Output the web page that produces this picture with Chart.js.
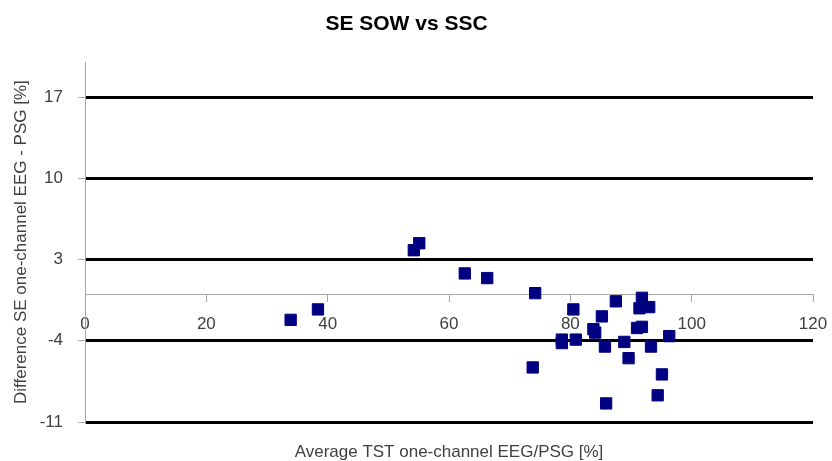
<!DOCTYPE html>
<html>
<head>
<meta charset="utf-8">
<script src="https://cdn.jsdelivr.net/npm/chart.js@4"></script>
<style>
  html, body { margin: 0; padding: 0; background: #fff; }
</style>
</head>
<body>
<canvas id="canvas" width="832" height="461"></canvas>
<script>
// values
const avgTst = [33.9, 38.4, 54.2, 55.1, 62.6, 66.3, 74.2, 73.8, 80.5, 87.5,
  91.8, 91.4, 93.0, 85.2, 83.8, 84.1, 91.0, 91.8, 78.6, 78.6,
  80.9, 85.7, 88.9, 93.3, 96.3, 89.6, 95.1, 94.4, 85.9];
const diffSe = [-2.2, -1.3, 3.8, 4.4, 1.8, 1.4, 0.1, -6.3, -1.3, -0.6,
  -0.3, -1.2, -1.1, -1.9, -3.0, -3.3, -2.9, -2.8, -3.9, -4.2,
  -3.9, -4.5, -4.1, -4.5, -3.6, -5.5, -6.9, -8.7, -9.4];
const xTicks = [0, 20, 40, 60, 80, 100, 120];
const yTicks = [-11, -4, 3, 10, 17];

const titleText = "SE SOW vs SSC";
const xTitle = "Average TST one-channel EEG/PSG [%]";
const yTitle = "Difference SE one-channel EEG - PSG [%]";

Chart.defaults.font.family = "'Liberation Sans', Arial, sans-serif";

const points = avgTst.map((x, i) => ({ x: x, y: diffSe[i] }));
const grey = "#a6a6a6";
const labelColor = "#404040";

const ctx = document.getElementById("canvas");
const myChart = new Chart(ctx, {
  type: "scatter",
  data: {
    datasets: [
      {
        data: points,
        backgroundColor: "#000080",
        borderColor: "#000080",
        borderWidth: 1,
        pointStyle: "rect",
        pointRadius: 8,
        pointHoverRadius: 8,
      },
    ],
  },
  options: {
    responsive: false,
    animation: false,
    devicePixelRatio: 1,
    layout: { padding: { left: 0, right: 19, top: 0, bottom: 0 } },
    plugins: {
      legend: { display: false },
      tooltip: { enabled: false },
      title: {
        display: true,
        text: titleText,
        color: "#000",
        font: { size: 21, weight: "bold" },
        padding: { top: 12, bottom: 25 },
      },
    },
    scales: {
      x: {
        type: "linear",
        min: 0,
        max: 120,
        position: { y: 0 },
        afterBuildTicks: (s) => {
          s.ticks = xTicks.map((v) => ({ value: v }));
        },
        afterFit: (s) => {
          // keep the plot right edge where the reference has it
          s.paddingLeft = 0;
          s.paddingRight = 19;
        },
        ticks: { color: labelColor, font: { size: 17 }, padding: 13 },
        grid: { drawOnChartArea: false, tickColor: grey, tickLength: 7 },
        border: { color: grey, width: 1 },
      },
      x2: {
        type: "linear",
        min: 0,
        max: 120,
        position: "bottom",
        ticks: { display: false },
        grid: { display: false },
        border: { display: false },
        title: {
          display: true,
          text: xTitle,
          color: labelColor,
          font: { size: 17, lineHeight: 1 },
          padding: { top: 14, bottom: 0 },
        },
      },
      y: {
        type: "linear",
        min: -11,
        max: 20,
        position: "left",
        afterBuildTicks: (s) => {
          s.ticks = yTicks.map((v) => ({ value: v }));
        },
        afterFit: (s) => {
          s.width = 85;
        },
        ticks: { color: labelColor, font: { size: 17 }, padding: 15 },
        grid: { color: "#000", lineWidth: 3, tickColor: grey, tickWidth: 1, tickLength: 7 },
        border: { color: grey, width: 1 },
        title: {
          display: true,
          text: yTitle,
          color: labelColor,
          font: { size: 17 },
          padding: { top: 11, bottom: 0 },
        },
      },
    },
  },
});
</script>
</body>
</html>
